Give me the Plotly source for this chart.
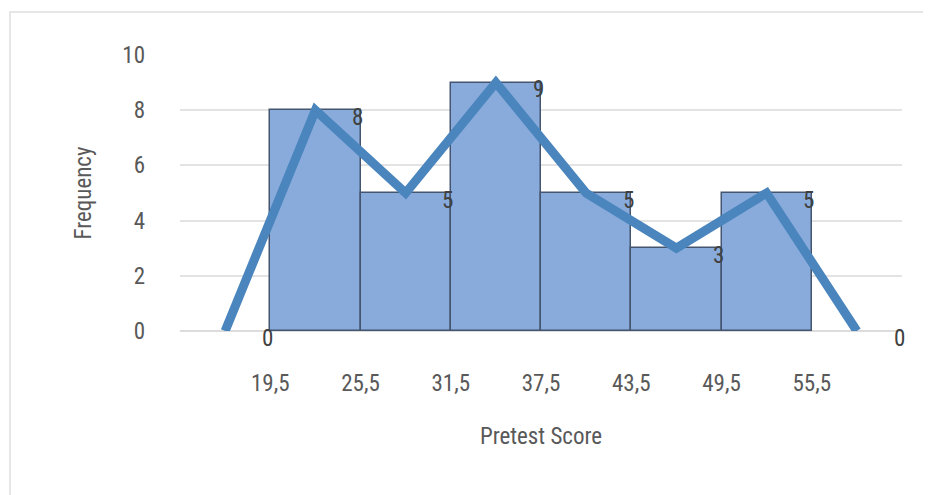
import plotly.graph_objects as go

# Histogram bins (class boundaries) and frequencies
bin_left = [19.5, 25.5, 31.5, 37.5, 43.5, 49.5]
bin_mid = [22.5, 28.5, 34.5, 40.5, 46.5, 52.5]
freqs = [8, 5, 9, 5, 3, 5]

# Frequency polygon (class midpoints incl. empty end classes)
poly_x = [16.5, 22.5, 28.5, 34.5, 40.5, 46.5, 52.5, 58.5]
poly_y = [0, 8, 5, 9, 5, 3, 5, 0]

# Data label positions (right edge of each class) and texts
label_x = [19.5, 25.5, 31.5, 37.5, 43.5, 49.5, 55.5, 61.5]
label_y = [0, 8, 5, 9, 5, 3, 5, 0]

tick_vals = [19.5, 25.5, 31.5, 37.5, 43.5, 49.5, 55.5]
tick_text = ["19,5", "25,5", "31,5", "37,5", "43,5", "49,5", "55,5"]

FONT = "Liberation Sans Narrow, Roboto Condensed, Arial Narrow, Liberation Sans, sans-serif"
GRAY = "#595959"
FS = 23

fig = go.Figure()
fig.add_trace(go.Bar(
    x=bin_mid, y=freqs, width=6,
    marker=dict(color="#88abdc", line=dict(color="#44566f", width=1.5)),
    showlegend=False, hoverinfo="skip",
))
fig.add_trace(go.Scatter(
    x=poly_x, y=poly_y, mode="lines",
    line=dict(color="#4a85bd", width=9),
    showlegend=False, cliponaxis=False,
))

for x, y in zip(label_x, label_y):
    fig.add_annotation(x=x, y=y, text=str(y), showarrow=False,
                       yshift=-7, xshift=-3,
                       font=dict(family=FONT, size=FS, color="#404040"))

fig.update_layout(
    width=931, height=495,
    margin=dict(l=172, r=37, t=47, b=172),
    paper_bgcolor="white", plot_bgcolor="white",
    bargap=0,
    font=dict(family=FONT, size=FS, color=GRAY),
    xaxis=dict(
        range=[13.5, 61.5],
        tickvals=tick_vals, ticktext=tick_text,
        showgrid=False, zeroline=False, showline=False,
        ticks="", ticklabelstandoff=36,
        tickfont=dict(family=FONT, size=FS, color=GRAY),
        title=dict(text="Pretest Score", standoff=31,
                   font=dict(family=FONT, size=FS, color=GRAY)),
    ),
    yaxis=dict(
        range=[0, 10], dtick=2,
        showgrid=True, gridcolor="#e3e3e3", gridwidth=2,
        zeroline=True, zerolinecolor="#dcdcdc", zerolinewidth=2,
        showline=False, ticks="", ticklabelstandoff=34,
        tickfont=dict(family=FONT, size=FS, color=GRAY),
        title=dict(text="Frequency", standoff=24,
                   font=dict(family=FONT, size=FS, color=GRAY)),
    ),
)

# faint outer chart border
fig.add_shape(type="rect", xref="paper", yref="paper",
              x0=(10 - 180) / 722, x1=1.2, y0=-1.0, y1=1 + (55 - 12) / 276,
              line=dict(color="#e6e6e6", width=2), fillcolor="rgba(0,0,0,0)",
              layer="below")

fig.write_html("out.html")
